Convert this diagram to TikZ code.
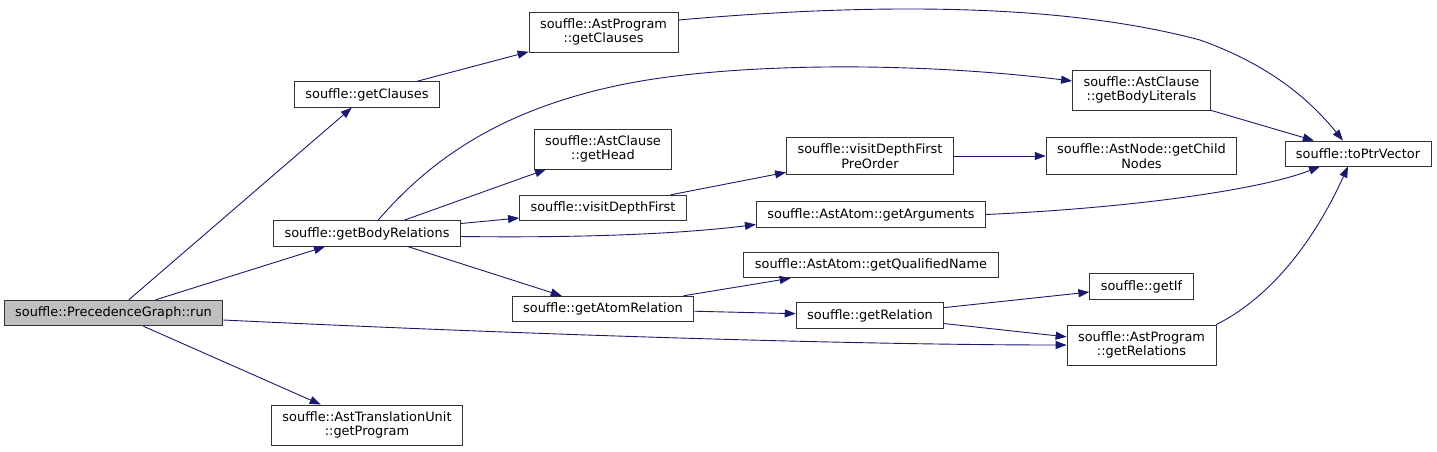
\documentclass[tikz,border=0pt]{standalone}
\usepackage{fontspec}
\setmainfont{DejaVu Sans}
\usepackage{tikz}
\usetikzlibrary{arrows.meta}
\definecolor{edgeblue}{RGB}{25,25,112}
\definecolor{rootgray}{RGB}{191,191,191}

\begin{document}
\begin{tikzpicture}[x=1pt, y=-1pt,
  fn/.style={draw=black!80, fill=white, line width=0.9pt, font=\fontsize{12.9}{14.5}\selectfont,
    align=center, inner xsep=11pt, inner ysep=6.5pt, minimum height=25pt},
  call/.style={edgeblue, line width=0.9pt, -{Triangle[length=11pt,width=8pt]}}]
\useasboundingbox (0,0) rectangle (1437,451);

% Functions
\node[fn, fill=rootgray] (run) at (113.5,313) {souffle::PrecedenceGraph::run};
\node[fn] (clauses) at (367,94.5) {souffle::getClauses};
\node[fn] (prgclauses) at (603.5,32) {souffle::AstProgram\\::getClauses};
\node[fn] (bodyrels) at (367,233.5) {souffle::getBodyRelations};
\node[fn] (getprog) at (367,425) {souffle::AstTranslationUnit\\::getProgram};
\node[fn] (gethead) at (603,149) {souffle::AstClause\\::getHead};
\node[fn] (visitdf) at (603,208) {souffle::visitDepthFirst};
\node[fn] (atomrel) at (603,309) {souffle::getAtomRelation};
\node[fn] (visitpre) at (870,156) {souffle::visitDepthFirst\\PreOrder};
\node[fn] (getargs) at (871,214.5) {souffle::AstAtom::getArguments};
\node[fn] (qualname) at (871,265) {souffle::AstAtom::getQualifiedName};
\node[fn] (getrel) at (870,315.5) {souffle::getRelation};
\node[fn] (bodylits) at (1141.5,90) {souffle::AstClause\\::getBodyLiterals};
\node[fn] (childnodes) at (1141.5,156) {souffle::AstNode::getChild\\Nodes};
\node[fn] (getif) at (1141.5,286.5) {souffle::getIf};
\node[fn] (prgrels) at (1141.5,345) {souffle::AstProgram\\::getRelations};
\node[fn] (toptr) at (1358,153.5) {souffle::toPtrVector};

% Straight calls
\foreach \a/\b in {run/clauses, run/bodyrels, run/getprog, clauses/prgclauses,
    bodyrels/gethead, bodyrels/atomrel, bodylits/toptr, visitdf/visitpre,
    visitpre/childnodes, atomrel/qualname, atomrel/getrel, getrel/getif, getrel/prgrels}
  \draw[call] (\a) -- (\b);

% Bent calls
\draw[call] ([yshift=10pt]bodyrels.east) -- ([yshift=-10pt]visitdf.west);
\draw[call] ([yshift=-3pt]bodyrels.east) .. controls (580,238) and (680,234) .. ([yshift=-10pt]getargs.west);
\draw[call] ([yshift=-7pt]run.east) .. controls (600,338) and (900,345) .. (prgrels.west);
\draw[call] ([xshift=11pt]bodyrels.north) .. controls (430,160) and (500,110) .. (620,85)
  .. controls (720,64) and (900,60) .. ([yshift=9pt]bodylits.west);
\draw[call] ([yshift=12pt]prgclauses.east) .. controls (850,5) and (1050,0) .. (1200,40)
  .. controls (1270,65) and (1310,100) .. ([xshift=-15pt]toptr.north);
\draw[call] (getargs.east) .. controls (1130,208) and (1260,190) .. ([xshift=-38pt]toptr.south);
\draw[call] (prgrels.north east) .. controls (1265,300) and (1310,250) .. ([xshift=-10pt]toptr.south);
\end{tikzpicture}
\end{document}
